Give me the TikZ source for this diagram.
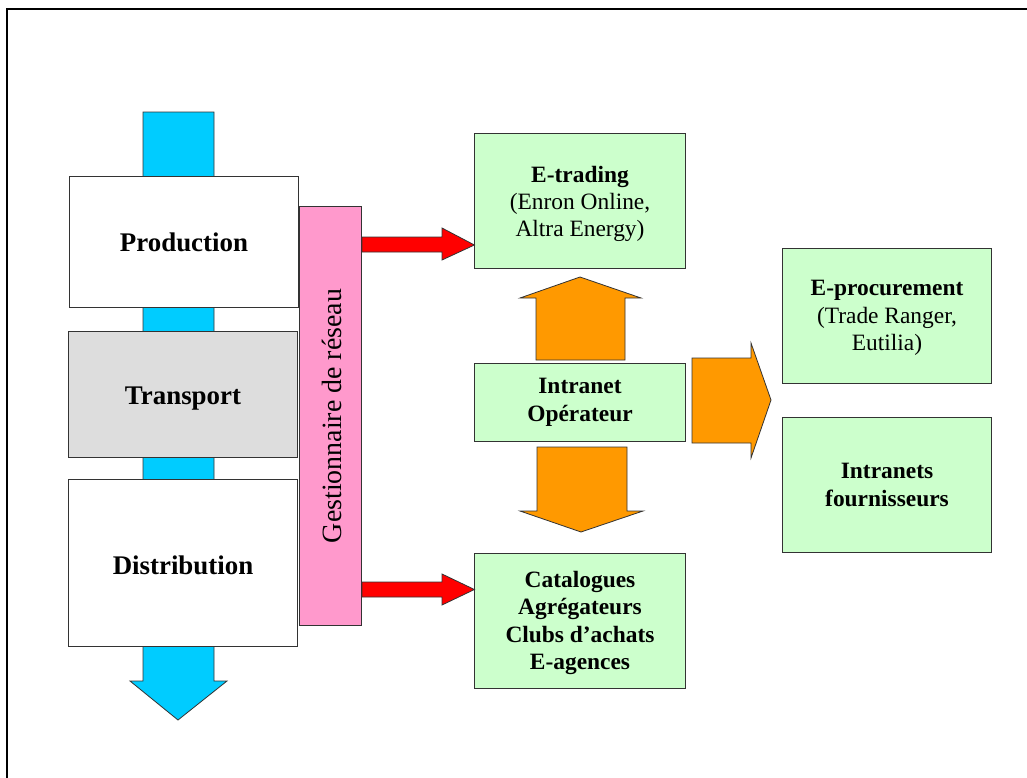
\documentclass[tikz,border=0pt]{standalone}
\usepackage{fontspec}
\setmainfont{Liberation Serif}
\definecolor{flowblue}{HTML}{00CCFF}
\definecolor{softgreen}{HTML}{CCFFCC}
\definecolor{blockorange}{HTML}{FF9900}
\definecolor{linkred}{HTML}{FF0000}
\definecolor{barpink}{HTML}{FF99CC}
\definecolor{lightgrey}{HTML}{DDDDDD}
\definecolor{edgegrey}{HTML}{333333}
\begin{document}
\begin{tikzpicture}[x=1bp,y=-1bp,
  every node/.style={inner sep=0pt, outer sep=0pt},
  chainbox/.style={draw=edgegrey, line width=0.9bp, fill=white,
    font=\fontsize{27}{30}\selectfont\bfseries},
  webbox/.style={draw=edgegrey, line width=0.9bp, fill=softgreen, align=center,
    font=\fontsize{23.5}{27.5}\selectfont},
  webboxbold/.style={webbox, font=\fontsize{23.5}{27.5}\selectfont\bfseries},
  blockarrow/.style={draw=edgegrey, line width=0.8bp, line join=miter}]
\useasboundingbox (0,0) rectangle (1027,778);
\fill[white] (0,0) rectangle (1027,778);
% outer frame
\draw[line width=2.2bp] (7,790) -- (7,9) -- (1040,9);

% energy flow along the value chain
\filldraw[blockarrow, fill=flowblue] (143,112) -- (214,112) -- (214,681) -- (227,681)
  -- (178,720) -- (130,681) -- (143,681) -- cycle;

% value chain stages
\node[chainbox, minimum width=230, minimum height=132] (prod) at (184,242) {Production};
\node[chainbox, fill=lightgrey, minimum width=230, minimum height=127] (trans) at (183,394.5) {};
\node (translabel) at ([yshift=-4bp]trans.center) {\fontsize{27}{30}\selectfont\bfseries Transport};
\node[chainbox, minimum width=230, minimum height=168] (dist) at (183,563) {};
\node (distlabel) at ([yshift=-2bp]dist.center) {\fontsize{27}{30}\selectfont\bfseries Distribution};

% network operator bar
\node[draw=edgegrey, line width=0.9bp, fill=barpink, minimum width=63, minimum height=420] (gest) at (330.5,416) {};
\node[rotate=90, font=\fontsize{28}{30}\selectfont] (gestlabel) at ([xshift=1bp]gest.center) {Gestionnaire de réseau};

% e-business platforms
\node[webbox, minimum width=212, minimum height=136] (etrad) at (580,201) {};
\node[webbox, draw=none, fill=none] (etradlabel) at ([yshift=-3bp]etrad.center)
  {\textbf{E-trading}\\(Enron Online,\\Altra Energy)};
\node[webboxbold, minimum width=212, minimum height=79] (intra) at (580,402.5)
  {Intranet\\Opérateur};
\node[webboxbold, minimum width=212, minimum height=136] (cata) at (580,621) {};
\node[webboxbold, draw=none, fill=none] (catalabel) at ([yshift=-2bp]cata.center)
  {Catalogues\\Agrégateurs\\Clubs d’achats\\E-agences};
\node[webbox, minimum width=210, minimum height=136] (eproc) at (887,316) {};
\node[webbox, draw=none, fill=none] (eproclabel) at ([yshift=-2bp]eproc.center)
  {\textbf{E-procurement}\\(Trade Ranger,\\Eutilia)};
\node[webboxbold, minimum width=210, minimum height=136] (fourn) at (887,485)
  {Intranets\\fournisseurs};

% links from the network operator
\filldraw[blockarrow, fill=linkred] (gest.east |- 0,237) -- (442,237) -- (442,228)
  -- (etrad.west |- 0,245) -- (442,260) -- (442,252) -- (gest.east |- 0,252) -- cycle;
\filldraw[blockarrow, fill=linkred] (gest.east |- 0,582) -- (442,582) -- (442,574)
  -- (cata.west |- 0,589.5) -- (442,605) -- (442,597) -- (gest.east |- 0,597) -- cycle;

% links from the operator intranet
\filldraw[blockarrow, fill=blockorange] (536,360) -- (536,298) -- (520,298)
  -- (580,277) -- (641,298) -- (625,298) -- (625,360) -- cycle;
\filldraw[blockarrow, fill=blockorange] (537,447) -- (627,447) -- (627,511) -- (643,511)
  -- (581,532) -- (520,511) -- (537,511) -- cycle;
\filldraw[blockarrow, fill=blockorange] (692,358) -- (751,358) -- (751,343)
  -- (771,400) -- (751,458) -- (751,443) -- (692,443) -- cycle;
\end{tikzpicture}
\end{document}
